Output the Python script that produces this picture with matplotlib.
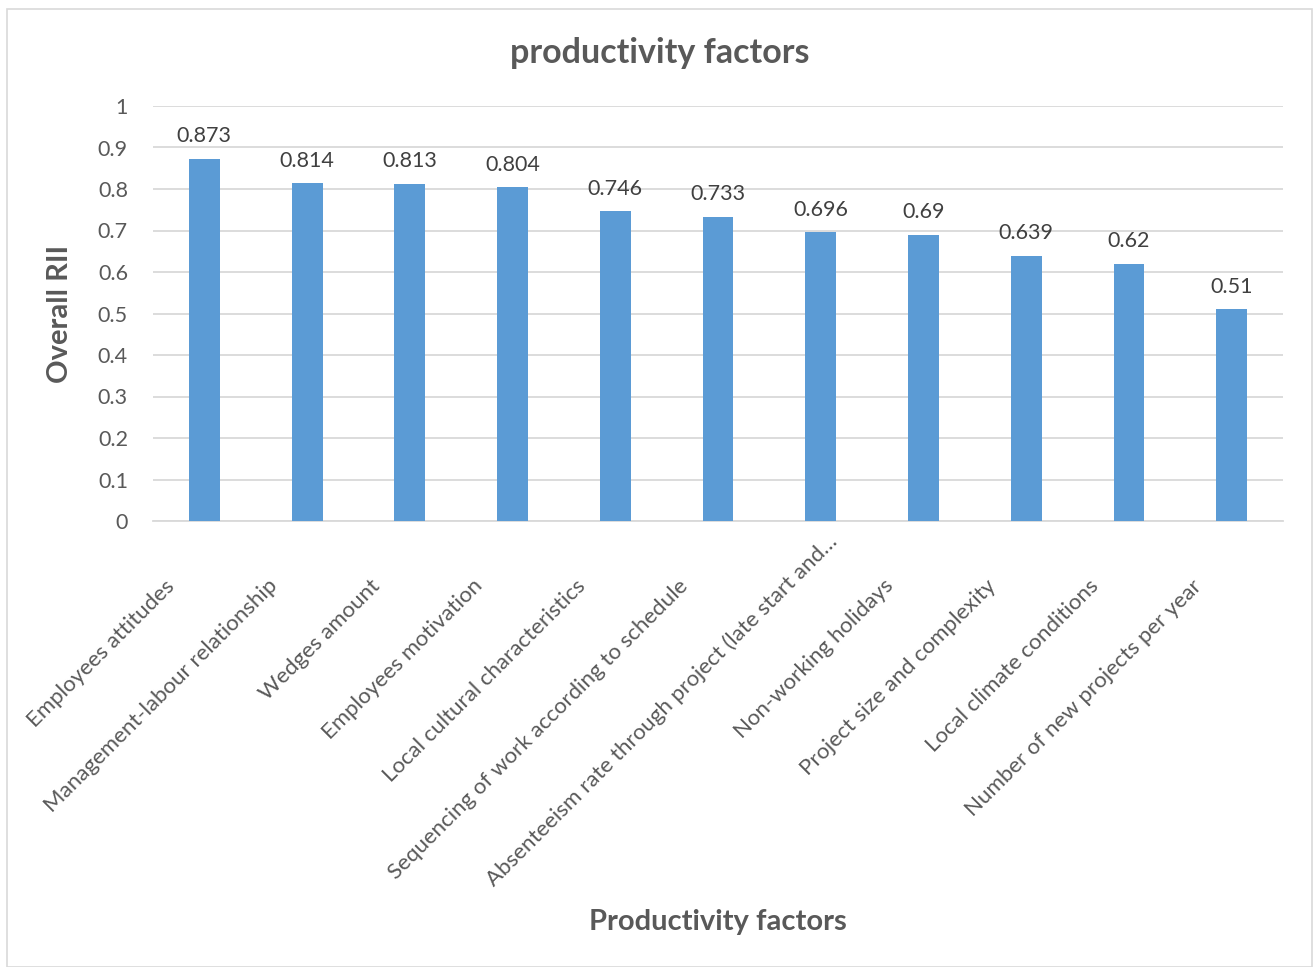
import matplotlib
matplotlib.use("Agg")
import matplotlib.pyplot as plt
from matplotlib.patches import Rectangle
from matplotlib.transforms import ScaledTranslation

factors = [
    "Employees attitudes",
    "Management-labour relationship",
    "Wedges amount",
    "Employees motivation",
    "Local cultural characteristics",
    "Sequencing of work according to schedule",
    "Absenteeism rate through project (late start and\u2026",
    "Non-working holidays",
    "Project size and complexity",
    "Local climate conditions",
    "Number of new projects per year",
]
rii = [0.873, 0.814, 0.813, 0.804, 0.746, 0.733, 0.696, 0.69, 0.639, 0.62, 0.51]
rii_labels = ["0.873", "0.814", "0.813", "0.804", "0.746", "0.733", "0.696", "0.69", "0.639", "0.62", "0.51"]
yticks = [0, 0.1, 0.2, 0.3, 0.4, 0.5, 0.6, 0.7, 0.8, 0.9, 1]
ytick_labels = ["0", "0.1", "0.2", "0.3", "0.4", "0.5", "0.6", "0.7", "0.8", "0.9", "1"]

TEXT = "#595959"
BAR = "#5b9bd5"
GRID = "#d9d9d9"

plt.rcParams["font.family"] = ["Lato", "DejaVu Sans"]

fig = plt.figure(figsize=(13.13, 9.67), dpi=100)
fig.patches.append(Rectangle((7 / 1313, 0.0), 1305 / 1313, 1 - 9 / 967,
                             transform=fig.transFigure, fill=False,
                             edgecolor="#d9d9d9", linewidth=1.2))

ax = fig.add_axes([153 / 1313, 1 - 521 / 967, 1130 / 1313, 415 / 967])
x = range(len(factors))
ax.bar(x, rii, width=0.30, color=BAR, zorder=3)
for xi, v, lab in zip(x, rii, rii_labels):
    ax.annotate(lab, (xi, v), xytext=(0, 9), textcoords="offset points",
                ha="center", va="bottom", fontsize=15.5, color="#404040")

ax.set_xlim(-0.5, len(factors) - 0.5)
ax.set_ylim(0, 1)
ax.set_yticks(yticks)
ax.set_yticklabels(ytick_labels, fontsize=15.5, color=TEXT)
ax.yaxis.grid(True, color=GRID, linewidth=1.3, zorder=0)
ax.tick_params(axis="y", length=0, pad=18)
ax.tick_params(axis="x", length=0)
for side in ["top", "right", "left"]:
    ax.spines[side].set_visible(False)
ax.spines["bottom"].set_color(GRID)
ax.spines["bottom"].set_linewidth(1.3)

ax.set_xticks(list(x))
ax.set_xticklabels(factors, rotation=45, ha="right", va="top",
                   rotation_mode="anchor", fontsize=16, color=TEXT)
for i, lbl in enumerate(ax.get_xticklabels()):
    # the truncated label sits further up along its own direction
    if lbl.get_text().endswith("\u2026"):
        shift = ScaledTranslation(0.06, -0.05, fig.dpi_scale_trans)
    else:
        shift = ScaledTranslation(-0.40, -0.50, fig.dpi_scale_trans)
    lbl.set_transform(lbl.get_transform() + shift)

ax.set_ylabel("Overall RII", fontsize=21, fontweight="bold", color=TEXT, labelpad=18)
fig.text(718 / 1313, 1 - 922 / 967, "Productivity factors", ha="center", va="center",
         fontsize=21, fontweight="bold", color=TEXT)
fig.text(660 / 1313, 1 - 53 / 967, "productivity factors", ha="center", va="center",
         fontsize=24.5, fontweight="bold", color=TEXT)

fig.savefig("out.png", dpi=100)
